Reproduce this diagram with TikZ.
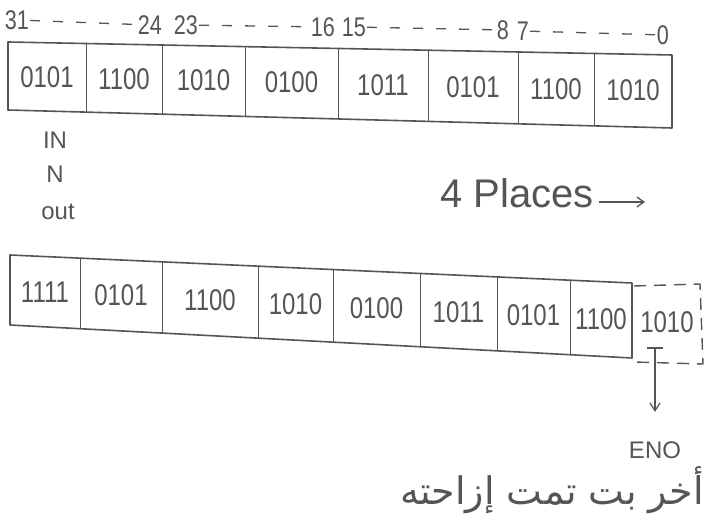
\documentclass[tikz,border=0pt]{standalone}
\usepackage{fontspec}
\setmainfont{Liberation Sans}
\newfontfamily\bitfont[FakeStretch=0.8]{Liberation Sans}
\newfontfamily\arabicfont[Script=Arabic]{DejaVu Sans}
\TeXXeTstate=1
\usetikzlibrary{arrows.meta}
\definecolor{pencil}{RGB}{85,85,85}
\tikzset{
  outline/.style={draw=pencil, line width=1.6pt, line join=round},
  divider/.style={draw=pencil, line width=1pt},
  bits/.style={text=pencil, font=\bitfont\fontsize{30}{32}\selectfont, inner sep=0pt},
  idx/.style={text=pencil, font=\bitfont\fontsize{27}{29}\selectfont, inner sep=1pt},
  lbl/.style={text=pencil, font=\fontsize{24}{26}\selectfont, inner sep=1pt},
  dashline/.style={draw=pencil, line width=1.3pt, dash pattern=on 10pt off 13pt},
  boxdash/.style={draw=pencil, line width=1.4pt, dash pattern=on 12pt off 8pt},
}
\begin{document}
\begin{tikzpicture}[x=1pt,y=-1pt]
\useasboundingbox (0,0) rectangle (716,529);

% ---- bit index labels ----
\node[idx] (l31) at (17,20) {31};
\node[idx] (l24) at (150,25) {24};
\node[idx] (l23) at (186,25) {23};
\node[idx] (l16) at (323,27) {16};
\node[idx] (l15) at (354,27) {15};
\node[idx] (l8)  at (503,30) {8};
\node[idx] (l7)  at (523,31) {7};
\node[idx] (l0)  at (663,35) {0};
\draw[dashline] (l31) -- (l24);
\draw[dashline] (l23) -- (l16);
\draw[dashline] (l15) -- (l8);
\draw[dashline] (l7) -- (l0);

% ---- top register ----
\draw[outline] (8,42) -- (672,55) -- (672,128) -- (8,110) -- cycle;
\foreach \x in {86,162,245,338,428,518,594}
  \draw[divider] (\x,{42+(\x-8)/664*13}) -- (\x,{110+(\x-8)/664*18});
\foreach \a/\b/\t [count=\i] in {8/86/0101,86/162/1100,162/245/1010,245/338/0100,338/428/1011,428/518/0101,518/594/1100,594/672/1010}{
  \pgfmathsetmacro\cx{(\a+\b)/2}
  \pgfmathsetmacro\cy{76+(\cx-8)/664*15.5}
  \node[bits] (t\i) at (\cx,\cy) {\t};
}

% ---- side labels ----
\node[lbl] (in) at (55,140) {IN};
\node[lbl] (n) at (55,174) {N};
\node[lbl] (out) at (58,212) {out};

\node[text=pencil, font=\fontsize{40}{44}\selectfont, inner sep=1pt] (places) at (517,193) {4 Places};
\coordinate (pend) at (645,202);
\draw[draw=pencil, line width=1.3pt, -{Straight Barb[length=7pt,width=10pt]}] (places.east) ++(4,9) -- (pend);

% ---- bottom register ----
\draw[outline] (10,255) -- (632,283) -- (632,358) -- (10,325) -- cycle;
\foreach \x in {80,162,258,333,420,497,570}
  \draw[divider] (\x,{255+(\x-10)/622*28}) -- (\x,{325+(\x-10)/622*33});
\foreach \a/\b/\t [count=\i] in {10/80/1111,80/162/0101,162/258/1100,258/333/1010,333/420/0100,420/497/1011,497/570/0101,570/632/1100}{
  \pgfmathsetmacro\cx{(\a+\b)/2}
  \pgfmathsetmacro\cy{290+(\cx-10)/622*30.5}
  \node[bits] (b\i) at (\cx,\cy) {\t};
}

% ---- shifted-out bits (dashed box) ----
\draw[boxdash] (634,286) -- (700,284) -- (703,364) -- (634,362);
\node[bits] (lost) at (667,322) {1010};
\coordinate (tmark) at (655,348);
\draw[divider, line width=1.3pt] (647,348) -- (663,348);

\node[lbl] (eno) at (655,450) {ENO};
\draw[draw=pencil, line width=1.2pt, -{Straight Barb[length=8pt,width=10pt]}] (tmark) -- (655,412);

\node[text=pencil, inner sep=1pt] (ar) at (552,490) {\arabicfont\fontsize{38}{44}\selectfont\beginR أخر بت تمت إزاحته\endR};
\end{tikzpicture}
\end{document}
